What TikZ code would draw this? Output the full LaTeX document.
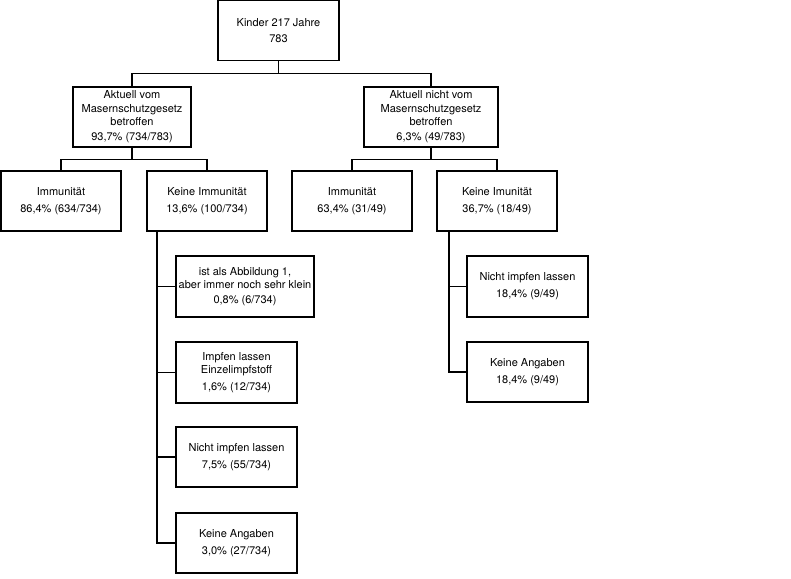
\documentclass[tikz,border=0pt]{standalone}
\usepackage{fontspec}
\setmainfont{TeX Gyre Heros}
\begin{document}
\begin{tikzpicture}[x=1pt,y=-1pt,line width=1.1pt,
    box/.style={draw,align=center,inner sep=0pt,minimum height=60pt,
        font=\fontsize{11}{13.5}\selectfont},
    link/.style={line width=1.1pt}]
    \useasboundingbox (0,0) rectangle (791,578);
    % root and first split
    \node[box,minimum width=121pt] (kids) at (278.5,30.5)
        {Kinder 217 Jahre\\[2.5pt]783};
    \node[box,minimum width=118pt] (aff) at (132,117)
        {Aktuell vom\\Masernschutzgesetz\\betroffen\\[1.5pt]93,7\% (734/783)};
    \node[box,minimum width=134pt] (naff) at (431,117)
        {Aktuell nicht vom\\Masernschutzgesetz\\betroffen\\[1.5pt]6,3\% (49/783)};
    % immunity
    \node[box,minimum width=120pt] (aimm) at (61,201)
        {Immunität\\[3.5pt]86,4\% (634/734)};
    \node[box,minimum width=120pt] (anoimm) at (207,201)
        {Keine Immunität\\[3.5pt]13,6\% (100/734)};
    \node[box,minimum width=120pt] (nimm) at (352,201)
        {Immunität\\[3.5pt]63,4\% (31/49)};
    \node[box,minimum width=120pt] (nnoimm) at (497,201)
        {Keine Imunität\\[3.5pt]36,7\% (18/49)};
    % details, left
    \node[box,minimum width=138pt,minimum height=61pt] (la) at (245,286.5)
        {ist als Abbildung 1,\\aber immer noch sehr klein\\[1.5pt]0,8\% (6/734)};
    \node[box,minimum width=121pt,minimum height=61pt] (lb) at (236.5,372.5)
        {Impfen lassen\\Einzelimpfstoff\\[3pt]1,6\% (12/734)};
    \node[box,minimum width=121pt] (lc) at (236.5,457)
        {Nicht impfen lassen\\[3.5pt]7,5\% (55/734)};
    \node[box,minimum width=121pt] (ld) at (236.5,543)
        {Keine Angaben\\[3.5pt]3,0\% (27/734)};
    % details, right
    \node[box,minimum width=121pt,minimum height=61pt] (ra) at (527.5,286.5)
        {Nicht impfen lassen\\[3.5pt]18,4\% (9/49)};
    \node[box,minimum width=121pt] (rb) at (527.5,372)
        {Keine Angaben\\[3.5pt]18,4\% (9/49)};
    % tree lines
    \draw[link] (kids.south) -- ++(0,12) -| (aff.north);
    \draw[link] (kids.south) -- ++(0,12) -| (naff.north);
    \draw[link] (aff.south) -- ++(0,12) -| (aimm.north);
    \draw[link] (aff.south) -- ++(0,12) -| (anoimm.north);
    \draw[link] (naff.south) -- ++(0,12) -| (nimm.north);
    \draw[link] (naff.south) -- ++(0,12) -| (nnoimm.north);
    \coordinate (ltrunk) at (157,231);
    \coordinate (rtrunk) at (449,231);
    \draw[link] (ltrunk) |- (ld.west);
    \draw[link] (ltrunk |- la.west) -- (la.west);
    \draw[link] (ltrunk |- lb.west) -- (lb.west);
    \draw[link] (ltrunk |- lc.west) -- (lc.west);
    \draw[link] (rtrunk) |- (rb.west);
    \draw[link] (rtrunk |- ra.west) -- (ra.west);
\end{tikzpicture}
\end{document}
